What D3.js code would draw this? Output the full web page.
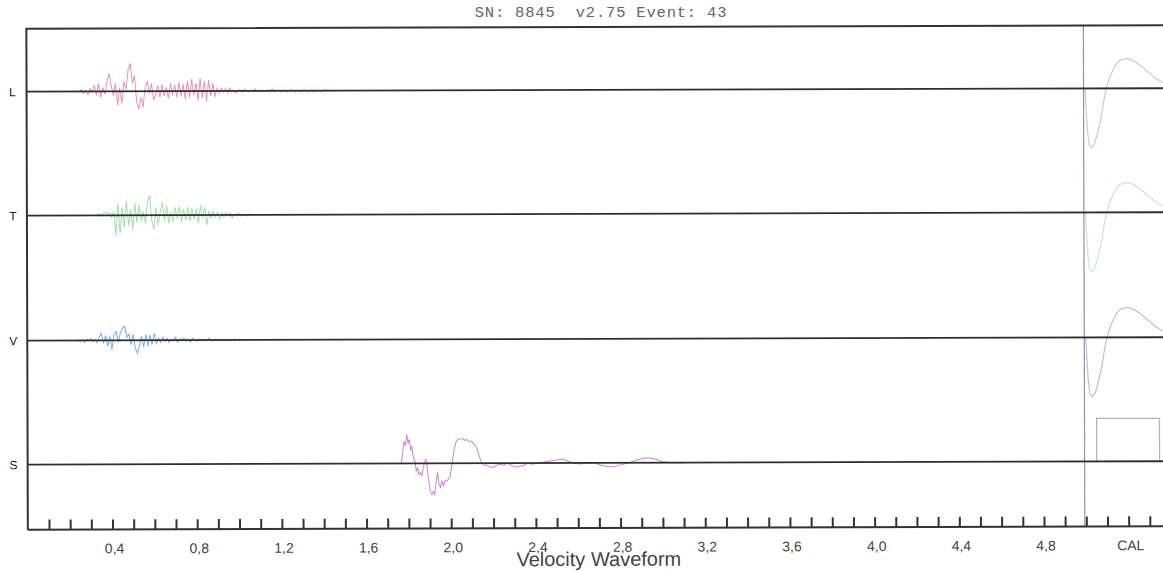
<!DOCTYPE html>
<html>
<head>
<meta charset="utf-8">
<script src="https://cdn.jsdelivr.net/npm/d3@7"></script>
<style>
  html, body { margin: 0; padding: 0; background: #fff; }
  svg { display: block; }
</style>
</head>
<body>
<svg id="chart"></svg>
<script>
// header + axis text
const title = "SN: 8845  v2.75 Event: 43";
const xTitle = "Velocity Waveform";
const channels = ["L", "T", "V", "S"];
const channelColors = ["#e893b6", "#9fe0ad", "#7eaee5", "#c987d3"];
const calColors = ["#dbc3cd", "#cde0dd", "#b7c2d8", "#b6acc6"];

// tick positions (s)
const minorTicks = d3.range(1, 54).map(d => d / 10);
const labelTicks = [0.4, 0.8, 1.2, 1.6, 2.0, 2.4, 2.8, 3.2, 3.6, 4.0, 4.4, 4.8];
const calTime = 5.0;
const calLabelAt = 5.2;

const lStart = 0.25;
const lValues = [0, 2, -2, 1, -3, 3, -1, 6, -4, 8, -6, 4, -3, 10, 18, 6, -4, 8, -14, 4,
  -12, 10, 2, 22, 28, 8, 16, -10, -18, -6, -16, 4, 10, -2, 8, -8, -4, 6, -6, 7,
  -5, 4, -7, 8, -4, 6, -6, 9, -5, 7, -8, 10, -6, 12, -4, 8, -9, 13, -7, 10,
  -10, 11, -5, 8, -6, 3, -2, 3, -1, 2, -2, 3, -1, 1, -2, 1,
  1, -1, 2, 0, -1, 1, -1, 2, -1, 0, 1, -1, 0, 1, -1, 2, -1, 0, 1, -1,
  0, 1, -1, 0, 1, 0, -1, 1, 0, -1, 1, 0, -1, 1, 0, -1, 1, 0, -1, 0, 1, 0, 0, 0, 0];

const tStart = 0.33;
const tValues = [0, 1, -1, 2, 3, 1, 3, -2, 4, -20, 12, -18, 8, -12, 14, -10, 6, -14, 12, -8,
  10, -6, 4, -8, 14, 20, -6, -14, 8, -10, 4, 13, -6, 10, -8, 3, -6, 8, -4, 9,
  -7, 6, -5, 8, -6, 7, -4, 6, -8, 10, -3, 8, -10, 4, -3, 4, -2, 3, -4, 2,
  -2, 3, -1, 2, -3, 1, -1, 2, -1, 1, 0, -1, 0];

const vStart = 0.24;
const vValues = [0, -1, 1, -2, 1, 0, 2, -1, 1, -2, 3, 7, -3, 5, -6, 4, -9, 6, 9, -2,
  8, 12, 14, 3, 6, -4, 6, -8, -13, -5, 4, -7, 6, -6, 5, -4, 7, -3, 2, -2,
  3, -1, 2, -2, 1, -1, 3, -2, 1, 0, 2, -1, 1, -2, 2, 0, -1, 1, 0, -1,
  1, 0, 2, -1, 0, 1, -1, 1, 0, -1, 1, 0, -1, 0, 1, 0];

// S channel as [time, value]
const sPoints = [[1.70, 0], [1.765, 0], [1.770, 8], [1.778, 22], [1.785, 18], [1.791, 29],
  [1.797, 20], [1.803, 24], [1.809, 14], [1.815, 17], [1.822, 6], [1.830, 2], [1.836, -8],
  [1.842, -4], [1.848, -11], [1.855, -9], [1.862, -12], [1.870, -3], [1.876, 2], [1.882, 4],
  [1.888, -6], [1.895, -18], [1.902, -28], [1.909, -31], [1.916, -28], [1.923, -31],
  [1.930, -18], [1.936, -9], [1.942, -20], [1.950, -24], [1.957, -18], [1.965, -22],
  [1.972, -17], [1.980, -18], [1.988, -15], [1.995, -14], [2.005, 0], [2.015, 14],
  [2.025, 22], [2.035, 24], [2.045, 24], [2.055, 25], [2.065, 23], [2.075, 24], [2.085, 22],
  [2.098, 22], [2.110, 19], [2.122, 15], [2.135, 6], [2.145, 0], [2.158, -2], [2.170, -2],
  [2.185, -4], [2.197, -4], [2.215, -2], [2.235, -1], [2.250, -2], [2.265, 0], [2.285, -2],
  [2.305, -4], [2.324, -3], [2.345, -2], [2.365, 0], [2.386, -1], [2.41, 0], [2.44, 1],
  [2.47, 2], [2.50, 3], [2.527, 4], [2.55, 2], [2.58, 0], [2.607, -1], [2.64, 0], [2.68, 0],
  [2.72, -3], [2.763, -4], [2.80, -2], [2.84, 0], [2.88, 3], [2.923, 5], [2.96, 4],
  [2.999, 1], [3.05, 0], [3.10, 0]];

// calibration pulse (time after CAL line, value), shared by L, T, V
const calPulse = [[0, 0], [0.005, -20], [0.011, -42], [0.019, -57], [0.031, -59], [0.043, -56],
  [0.053, -49], [0.064, -40], [0.076, -29], [0.087, -14], [0.100, 0], [0.115, 10],
  [0.131, 18], [0.146, 24], [0.163, 28], [0.195, 30], [0.215, 29], [0.242, 26],
  [0.272, 21], [0.305, 15], [0.333, 10], [0.366, 6], [0.40, 4]];
// S cal square
const calSquare = [[0, 0], [0.05, 0], [0.05, 43], [0.347, 43], [0.347, 0], [0.40, 0]];

const width = 1163, height = 571;
const plotLeft = 27.1, plotTop = 27, plotBottom = 528;
const baselines = [90, 214, 339, 463];

const svg = d3.select("#chart").attr("width", width).attr("height", height);

svg.append("text")
  .attr("x", 601).attr("y", 17)
  .attr("text-anchor", "middle")
  .attr("xml:space", "preserve")
  .style("white-space", "pre")
  .style("font-family", "'Liberation Mono', monospace")
  .style("font-size", "15.5px")
  .style("letter-spacing", "0.8px")
  .attr("fill", "#666")
  .text(title);

// scanned page is a hair crooked
const g = svg.append("g").attr("transform", "rotate(-0.17,580,280)");

const x = d3.scaleLinear().domain([0, 5.4]).range([plotLeft, plotLeft + 5.4 * 211.7]);
const y = d3.scaleLinear().domain([-32, 32]).range([32, -32]);

const line = d3.line()
  .x(d => x(d[0]))
  .y(d => y(d[1]));

const toPoints = (start, vals) => vals.map((v, i) => [start + i * 0.01, v]);
const traces = [toPoints(lStart, lValues), toPoints(tStart, tValues), toPoints(vStart, vValues), sPoints];

// waveforms
traces.forEach((pts, i) => {
  g.append("path")
    .datum(pts)
    .attr("transform", "translate(0," + baselines[i] + ")")
    .attr("fill", "none")
    .attr("stroke", channelColors[i])
    .attr("stroke-width", 1)
    .attr("d", line);

  const cal = i < 3 ? calPulse : calSquare;
  g.append("path")
    .datum(cal.map(d => [calTime + d[0], d[1]]))
    .attr("transform", "translate(0," + baselines[i] + ")")
    .attr("fill", "none")
    .attr("stroke", calColors[i])
    .attr("stroke-width", 1.2)
    .attr("d", line);
});

// cal divider
g.append("line")
  .attr("x1", x(calTime) - 1.5).attr("x2", x(calTime) - 1.5)
  .attr("y1", plotTop).attr("y2", plotBottom)
  .attr("stroke", "#9a90a8")
  .attr("stroke-width", 1.2);

// channel baselines
g.selectAll(".base")
  .data(baselines)
  .join("line")
  .attr("class", "base")
  .attr("x1", plotLeft).attr("x2", width + 10)
  .attr("y1", d => d).attr("y2", d => d)
  .attr("stroke", "#2e2e2e")
  .attr("stroke-width", 1.8);

g.selectAll(".chan")
  .data(channels)
  .join("text")
  .attr("class", "chan")
  .attr("x", 13).attr("y", (d, i) => baselines[i] + 4.5)
  .attr("text-anchor", "middle")
  .style("font-family", "'Liberation Sans', Arial, sans-serif")
  .style("font-size", "12px")
  .attr("fill", "#222")
  .text(d => d);

// frame
g.append("path")
  .attr("d", "M" + (width + 10) + "," + plotTop + "H" + plotLeft + "V" + plotBottom)
  .attr("fill", "none")
  .attr("stroke", "#333")
  .attr("stroke-width", 2);

// axis
const minorAxis = d3.axisBottom(x)
  .tickValues(minorTicks)
  .tickSizeInner(-10)
  .tickSizeOuter(0)
  .tickFormat("");

const ax = g.append("g")
  .attr("transform", "translate(0," + plotBottom + ")")
  .call(minorAxis);
ax.select(".domain").attr("d", "M" + plotLeft + ",0H" + (width + 10)).attr("stroke", "#333").attr("stroke-width", 2);
ax.selectAll(".tick line").attr("stroke", "#333").attr("stroke-width", 2);

const fmt = d3.format(".1f");
const labelAxis = d3.axisBottom(x)
  .tickValues(labelTicks.concat([calLabelAt]))
  .tickSize(0)
  .tickPadding(14)
  .tickFormat(d => d === calLabelAt ? "CAL" : fmt(d).replace(".", ","));

const lab = g.append("g")
  .attr("transform", "translate(0," + plotBottom + ")")
  .call(labelAxis);
lab.select(".domain").remove();
lab.selectAll(".tick text")
  .attr("dx", 1.5)
  .style("font-family", "'Liberation Sans', Arial, sans-serif")
  .style("font-size", "14px")
  .attr("fill", "#444");

g.append("text")
  .attr("x", 598).attr("y", 566)
  .attr("text-anchor", "middle")
  .style("font-family", "'Liberation Sans', Arial, sans-serif")
  .style("font-size", "20px")
  .attr("fill", "#444")
  .text(xTitle);
</script>
</body>
</html>
